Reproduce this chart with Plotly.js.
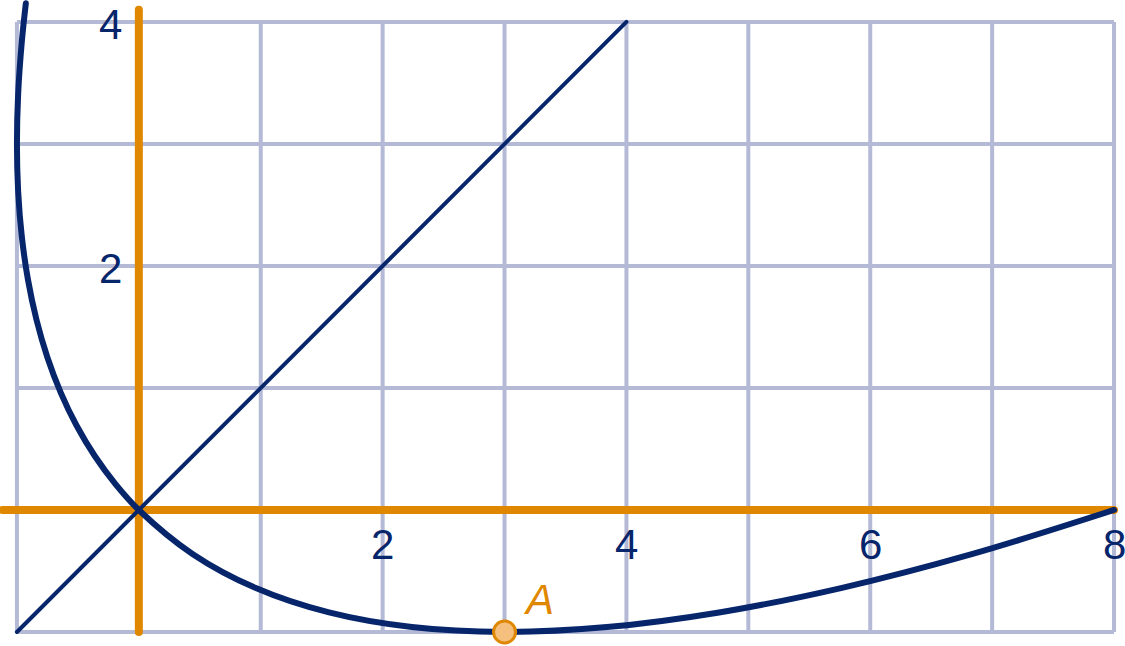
<!DOCTYPE html>
<html>
<head>
<meta charset="utf-8">
<script src="https://cdn.plot.ly/plotly-3.0.1.min.js"></script>
<style>
html, body { margin: 0; padding: 0; background: #fff; }
#chart { width: 1125px; height: 646px; }
path.js-line { stroke-linecap: round; }
</style>
</head>
<body>
<div id="chart"></div>
<script>
// Grid values
var gridX = [-1, 0, 1, 2, 3, 4, 5, 6, 7, 8];
var gridY = [-1, 0, 1, 2, 3, 4];
// Tick labels
var xTickVals = [2, 4, 6, 8];
var xTickText = ["2", "4", "6", "8"];
var yTickVals = [2, 4];
var yTickText = ["2", "4"];
// Orange axes
var axisHX = [-1.12, 8];
var axisHY = [0, 0];
var axisVX = [0, 0];
var axisVY = [-1, 4.1];
// Line y = x
var diagX = [-1, 4];
var diagY = [-1, 4];
// Curve
var curveX = [-0.927, -0.96, -0.99, -1, -0.99, -0.96, -0.91, -0.84, -0.75, -0.64, -0.51, -0.36, -0.19, 0, 0.44, 0.96, 1.56, 2.24, 3, 3.84, 4.76, 5.76, 6.84, 8];
var curveY = [4.153, 3.84, 3.41, 3, 2.61, 2.24, 1.89, 1.56, 1.25, 0.96, 0.69, 0.44, 0.21, 0, -0.36, -0.64, -0.84, -0.96, -1, -0.96, -0.84, -0.64, -0.36, 0];
// Point A
var pointX = [3];
var pointY = [-1];
var pointLabel = ["A"];

var navy = "#06256b";
var orange = "#e08700";
var gridColor = "#b4b9d6";
var font = "Liberation Sans, Arial, sans-serif";

var shapes = [];
gridX.forEach(function (v) {
  shapes.push({type: "line", xref: "x", yref: "y", x0: v, x1: v,
    y0: gridY[0], y1: gridY[gridY.length - 1], layer: "below",
    line: {color: gridColor, width: 4}});
});
gridY.forEach(function (v) {
  shapes.push({type: "line", xref: "x", yref: "y", y0: v, y1: v,
    x0: gridX[0], x1: gridX[gridX.length - 1], layer: "below",
    line: {color: gridColor, width: 4}});
});

var annotations = [];
xTickVals.forEach(function (v, i) {
  annotations.push({x: v, y: 0, text: xTickText[i], showarrow: false,
    xanchor: "center", yanchor: "middle", yshift: -35,
    font: {family: font, size: 42, color: navy}});
});
yTickVals.forEach(function (v, i) {
  annotations.push({x: 0, y: v, text: yTickText[i], showarrow: false,
    xanchor: "center", yanchor: "middle", xshift: -28, yshift: -3,
    font: {family: font, size: 42, color: navy}});
});
pointX.forEach(function (v, i) {
  annotations.push({x: v, y: pointY[i], text: "<i>" + pointLabel[i] + "</i>", showarrow: false,
    xanchor: "center", yanchor: "middle", xshift: 34, yshift: 32,
    font: {family: font, size: 42, color: orange}});
});

var traces = [
  {x: axisHX, y: axisHY, mode: "lines", line: {color: orange, width: 8}, hoverinfo: "skip"},
  {x: axisVX, y: axisVY, mode: "lines", line: {color: orange, width: 8}, hoverinfo: "skip"},
  {x: diagX, y: diagY, mode: "lines", line: {color: navy, width: 4}, hoverinfo: "skip"},
  {x: curveX, y: curveY, mode: "lines", line: {color: navy, width: 6, shape: "spline", smoothing: 1}, hoverinfo: "skip"},
  {x: pointX, y: pointY, mode: "markers", marker: {size: 22, color: "#f5c07e", line: {color: orange, width: 3}}, hoverinfo: "skip"}
];

var layout = {
  width: 1125, height: 646,
  margin: {l: 0, r: 0, t: 0, b: 0, pad: 0},
  paper_bgcolor: "#ffffff", plot_bgcolor: "#ffffff",
  showlegend: false,
  xaxis: {range: [-1.139, 8.09], visible: false, showgrid: false, zeroline: false, fixedrange: true},
  yaxis: {range: [-1.115, 4.18], visible: false, showgrid: false, zeroline: false, fixedrange: true},
  shapes: shapes,
  annotations: annotations
};

Plotly.newPlot("chart", traces, layout, {displayModeBar: false, staticPlot: true});
</script>
</body>
</html>
